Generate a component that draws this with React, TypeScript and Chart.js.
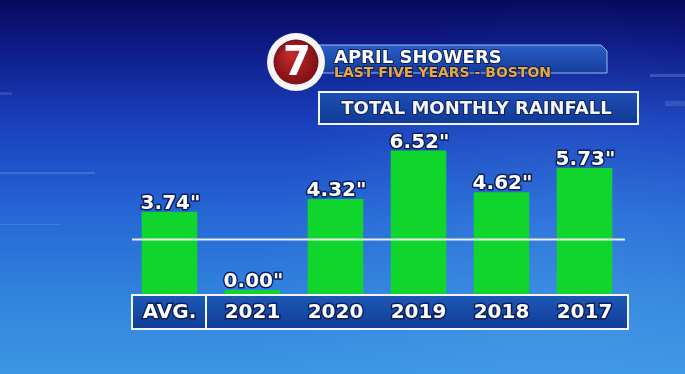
import React, { useEffect, useRef } from "react";
import { Chart, registerables } from "chart.js";

Chart.register(...registerables);

const CATEGORIES = ["AVG.", "2021", "2020", "2019", "2018", "2017"];
const RAINFALL = [3.74, 0.0, 4.32, 6.52, 4.62, 5.73];
const REF_LINE = 2.5;
const TITLE = "APRIL SHOWERS";
const SUBTITLE = "LAST FIVE YEARS - BOSTON";
const BOX_TITLE = "TOTAL MONTHLY RAINFALL";
const LOGO = "7";

const FONT = "'DejaVu Sans', 'Liberation Sans', sans-serif";

const tvPlugin = {
  id: "tv",
  beforeDraw(chart: any) {
    const { ctx, width, height, chartArea } = chart;
    ctx.save();
    const g = ctx.createLinearGradient(0, 0, 0, height);
    g.addColorStop(0, "#070b5e");
    g.addColorStop(0.12, "#0e1a86");
    g.addColorStop(0.33, "#1a40bd");
    g.addColorStop(0.58, "#2668d6");
    g.addColorStop(0.8, "#3284dd");
    g.addColorStop(1, "#3d95e4");
    ctx.fillStyle = g;
    ctx.fillRect(0, 0, width, height);
    const rg = ctx.createRadialGradient(560, 300, 10, 560, 300, 300);
    rg.addColorStop(0, "rgba(90,170,240,0.25)");
    rg.addColorStop(1, "rgba(90,170,240,0)");
    ctx.fillStyle = rg;
    ctx.fillRect(0, 0, width, height);
    ctx.fillStyle = "rgba(170,190,240,0.25)";
    ctx.fillRect(650, 74, 35, 3);
    ctx.fillStyle = "rgba(170,190,240,0.18)";
    ctx.fillRect(665, 101, 20, 5);
    ctx.fillRect(0, 92, 12, 3);
    ctx.fillStyle = "rgba(170,200,250,0.22)";
    ctx.fillRect(0, 172, 95, 2);
    ctx.fillRect(0, 224, 60, 1);

    // banner
    const bx = 318, by = 45, bw = 289, bh = 28;
    const bg = ctx.createLinearGradient(0, by, 0, by + bh);
    bg.addColorStop(0, "#2a5fc8");
    bg.addColorStop(1, "#143c9c");
    ctx.beginPath();
    ctx.moveTo(bx, by);
    ctx.lineTo(bx + bw - 6, by);
    ctx.lineTo(bx + bw, by + 6);
    ctx.lineTo(bx + bw, by + bh);
    ctx.lineTo(bx, by + bh);
    ctx.closePath();
    ctx.fillStyle = bg;
    ctx.fill();
    ctx.strokeStyle = "rgba(170,200,245,0.9)";
    ctx.lineWidth = 1;
    ctx.stroke();

    ctx.textAlign = "left";
    ctx.textBaseline = "alphabetic";
    ctx.font = `bold 18px ${FONT}`;
    ctx.lineWidth = 2;
    ctx.strokeStyle = "#0b1f63";
    ctx.strokeText(TITLE, 334, 63, 194);
    ctx.fillStyle = "#ffffff";
    ctx.fillText(TITLE, 334, 63, 194);
    ctx.font = `bold 14px ${FONT}`;
    ctx.strokeText(SUBTITLE, 334, 77, 249);
    ctx.fillStyle = "#e9a93a";
    ctx.fillText(SUBTITLE, 334, 77, 249);

    // logo
    const cx = 296, cy = 62;
    ctx.beginPath();
    ctx.arc(cx, cy, 29, 0, Math.PI * 2);
    ctx.fillStyle = "#f4f6fa";
    ctx.fill();
    const lg = ctx.createRadialGradient(cx - 6, cy - 8, 3, cx, cy, 23);
    lg.addColorStop(0, "#c0282a");
    lg.addColorStop(1, "#7d1014");
    ctx.beginPath();
    ctx.arc(cx, cy, 22.5, 0, Math.PI * 2);
    ctx.fillStyle = lg;
    ctx.fill();
    ctx.font = `bold 40px ${FONT}`;
    ctx.textAlign = "center";
    ctx.textBaseline = "middle";
    ctx.fillStyle = "#ffffff";
    ctx.fillText(LOGO, cx + 1, cy + 3);

    // total monthly rainfall box
    const tx = 319, ty = 92, tw = 319, th = 32;
    const tg = ctx.createLinearGradient(0, ty, 0, ty + th);
    tg.addColorStop(0, "#1d4fb4");
    tg.addColorStop(1, "#123a96");
    ctx.fillStyle = tg;
    ctx.fillRect(tx, ty, tw, th);
    ctx.strokeStyle = "#f2f5fb";
    ctx.lineWidth = 2;
    ctx.strokeRect(tx, ty, tw, th);
    ctx.font = `bold 18px ${FONT}`;
    ctx.textAlign = "center";
    ctx.textBaseline = "middle";
    ctx.lineWidth = 2;
    ctx.strokeStyle = "#0b1f63";
    ctx.strokeText(BOX_TITLE, tx + tw / 2 - 2, ty + th / 2 + 1, 291);
    ctx.fillStyle = "#f4f6fb";
    ctx.fillText(BOX_TITLE, tx + tw / 2 - 2, ty + th / 2 + 1, 291);

    // axis label box
    const xs = chart.scales.x;
    const x0 = xs.getPixelForTick(0);
    const x1 = xs.getPixelForTick(1);
    const left = chartArea.left + 4;
    const right = chartArea.right + 2;
    const top = chartArea.bottom + 1;
    const bottom = chartArea.bottom + 35;
    const ag = ctx.createLinearGradient(0, top, 0, bottom);
    ag.addColorStop(0, "#1c58b6");
    ag.addColorStop(1, "#113e98");
    ctx.fillStyle = ag;
    ctx.fillRect(left, top, right - left, bottom - top);
    ctx.strokeStyle = "#f2f5fb";
    ctx.lineWidth = 2;
    ctx.strokeRect(left, top, right - left, bottom - top);
    const div = x0 + (x1 - x0) * 0.44;
    ctx.beginPath();
    ctx.moveTo(div, top);
    ctx.lineTo(div, bottom);
    ctx.stroke();
    ctx.restore();
  },
  afterDatasetsDraw(chart: any) {
    const { ctx, chartArea } = chart;
    const ys = chart.scales.y;
    ctx.save();
    const ly = Math.round(ys.getPixelForValue(REF_LINE)) + 0.5;
    ctx.strokeStyle = "rgba(245,248,255,0.95)";
    ctx.lineWidth = 2;
    ctx.beginPath();
    ctx.moveTo(chartArea.left + 4, ly);
    ctx.lineTo(chartArea.right - 1, ly);
    ctx.stroke();
    const meta = chart.getDatasetMeta(0);
    ctx.font = `bold 20px ${FONT}`;
    ctx.textAlign = "center";
    ctx.textBaseline = "alphabetic";
    meta.data.forEach((bar: any, i: number) => {
      const label = RAINFALL[i].toFixed(2) + '"';
      const x = bar.x + 1;
      const y = bar.y - 3;
      ctx.lineWidth = 3;
      ctx.strokeStyle = "#0c1f5c";
      ctx.lineJoin = "round";
      ctx.strokeText(label, x, y);
      ctx.fillStyle = "#ffffff";
      ctx.fillText(label, x, y);
    });
    ctx.restore();
  },
};

export default function App() {
  const ref = useRef<HTMLCanvasElement>(null);
  useEffect(() => {
    if (!ref.current) return;
    const chart = new Chart(ref.current, {
      type: "bar",
      data: {
        labels: CATEGORIES,
        datasets: [
          {
            data: RAINFALL,
            backgroundColor: "#10d52c",
            borderWidth: 0,
            barPercentage: 0.67,
            categoryPercentage: 1,
            minBarLength: 4,
          },
        ],
      },
      options: {
        responsive: false,
        animation: false,
        layout: { padding: { left: 128, right: 59, top: 140, bottom: 42 } },
        plugins: { legend: { display: false }, tooltip: { enabled: false } },
        scales: {
          x: {
            grid: { display: false, drawTicks: false },
            border: { display: false },
            ticks: {
              color: "#ffffff",
              padding: 7,
              font: { family: FONT, weight: "bold", size: 20 },
              textStrokeColor: "#0c1f5c",
              textStrokeWidth: 3,
              maxRotation: 0,
              autoSkip: false,
            },
          },
          y: {
            display: false,
            min: 0,
            max: 7,
          },
        },
      },
      plugins: [tvPlugin],
    });
    return () => chart.destroy();
  }, []);
  return (
    <div style={{ position: "fixed", left: 0, top: 0, width: 685, height: 374 }}>
      <canvas ref={ref} width={685} height={374} style={{ display: "block" }} />
    </div>
  );
}
